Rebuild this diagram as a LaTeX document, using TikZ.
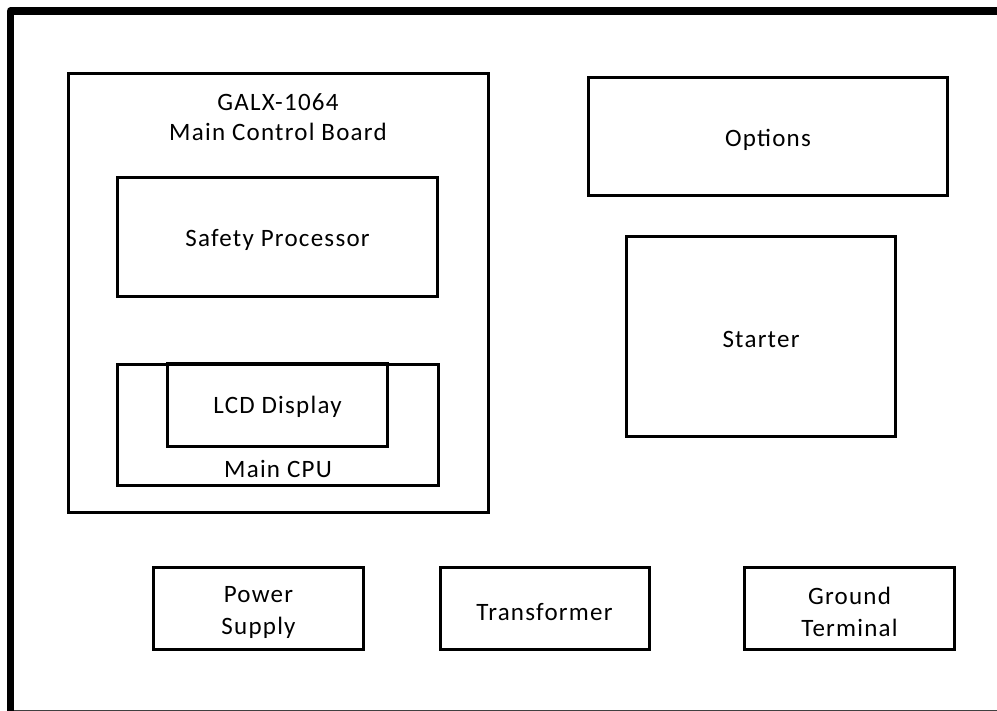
\documentclass[tikz,border=0pt]{standalone}
\usepackage{fontspec}
\setmainfont{Carlito}[LetterSpace=5]
\newcommand{\dnshift}[2]{\raisebox{-#1pt}[\height][\depth]{#2}}
\begin{document}
\begin{tikzpicture}[x=1pt,y=-1pt,
  box/.style={draw=black, line width=3pt, inner sep=0pt, align=center, font=\fontsize{25}{32}\selectfont},
  lbl/.style={inner sep=0pt, align=center, font=\fontsize{25}{30}\selectfont}]
\useasboundingbox (0,0) rectangle (997,711);
\fill[white] (0,0) rectangle (997,711);
% outer frame
\coordinate (fbl) at (10.5,711);
\coordinate (ftl) at (10.5,11);
\coordinate (ftr) at (997,11);
\draw[line width=7.5pt, line join=round] (fbl) -- (ftl) -- (ftr);
\coordinate (bl) at (14,710);
\coordinate (br) at (997,710);
\draw[line width=1pt, black!75] (bl) -- (br);
% main board
\node[box, minimum width=420, minimum height=438] (board) at (278,293) {};
\node[lbl] (title) at (278,117) {GALX-1064\\Main Control Board};
\node[box, minimum width=320, minimum height=119] (safety) at (277.5,237) {\dnshift{3}{Safety Processor}};
\node[box, minimum width=321, minimum height=121] (cpu) at (278,425) {};
\node[box, minimum width=220, minimum height=83] (lcd) at (277.5,405.5) {\dnshift{1.5}{LCD Display}};
\node[lbl] (cpulbl) at (278,469) {Main CPU};
% right side
\node[box, minimum width=359, minimum height=118] (options) at (768,136.5) {\dnshift{3}{Options}};
\node[box, minimum width=269, minimum height=200] (starter) at (761,336.5) {\dnshift{3}{Starter}};
% bottom row
\node[box, minimum width=210, minimum height=82] (power) at (258.5,608.5) {};
\node[lbl, font=\fontsize{25}{32}\selectfont] (powerlbl) at (258.5,612) {Power\\Supply};
\node[box, minimum width=209, minimum height=82] (trans) at (544.5,608.5) {\dnshift{4}{Transformer}};
\node[box, minimum width=210, minimum height=82] (ground) at (849.5,608.5) {};
\node[lbl, font=\fontsize{25}{32}\selectfont] (groundlbl) at (849.5,612) {Ground\\Terminal};
\end{tikzpicture}
\end{document}
